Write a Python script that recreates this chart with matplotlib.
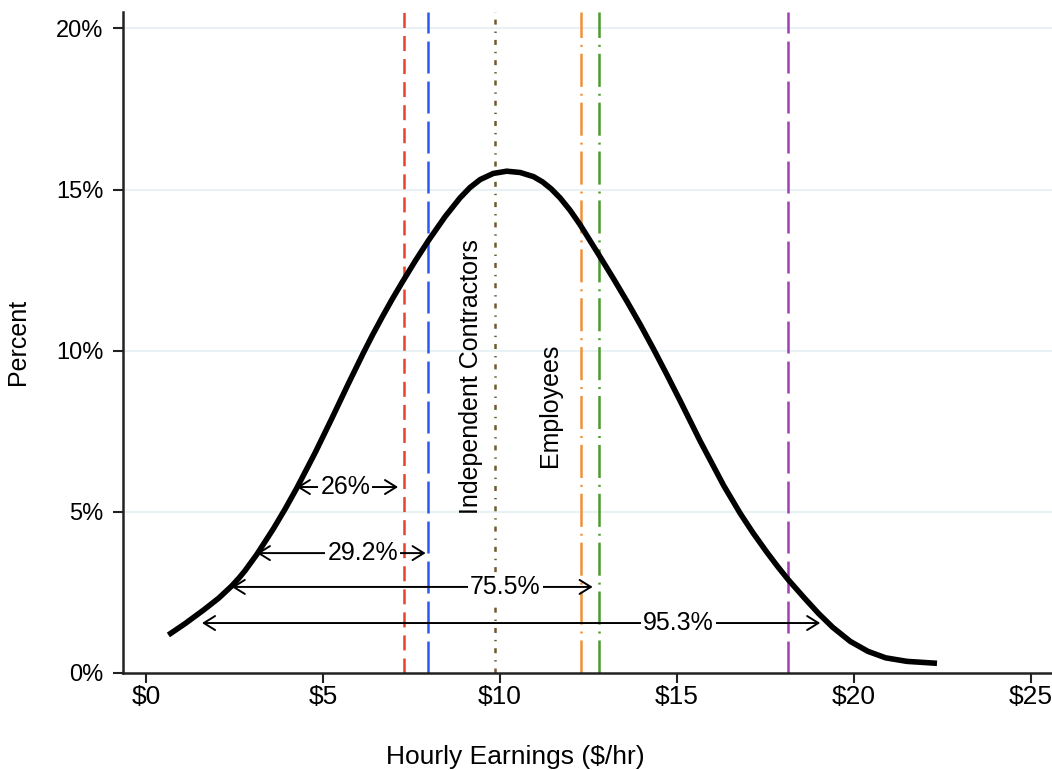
import matplotlib
matplotlib.use("Agg")
import matplotlib.pyplot as plt

plt.rcParams['font.family'] = ['Liberation Sans', 'DejaVu Sans']
plt.rcParams['lines.scale_dashes'] = False

# density curve (hourly earnings, percent)
curve_x = [0.63, 1.10, 1.62, 2.05, 2.42, 2.62, 2.80, 3.13, 3.60, 3.93,
           4.26, 4.78, 5.25, 5.70, 6.14, 6.40, 6.68, 6.95, 7.23, 7.62,
           7.98, 8.45, 8.87, 9.15, 9.44, 9.81, 10.19, 10.57, 10.95, 11.20,
           11.45, 11.70, 11.98, 12.27, 12.78, 13.20, 13.59, 13.97, 14.34, 14.72,
           15.09, 15.66, 16.32, 16.79, 17.15, 17.54, 17.85, 18.15, 18.60, 19.00,
           19.40, 19.90, 20.40, 20.90, 21.50, 22.35]
curve_y = [1.18, 1.53, 1.95, 2.32, 2.70, 2.94, 3.18, 3.68, 4.48, 5.09,
           5.74, 6.84, 7.90, 8.94, 9.93, 10.49, 11.06, 11.59, 12.11, 12.81,
           13.42, 14.16, 14.74, 15.06, 15.31, 15.50, 15.57, 15.53, 15.40, 15.24,
           15.02, 14.74, 14.36, 13.90, 13.00, 12.25, 11.53, 10.80, 10.05, 9.25,
           8.45, 7.19, 5.82, 4.95, 4.35, 3.75, 3.30, 2.89, 2.33, 1.85,
           1.42, 0.98, 0.67, 0.47, 0.36, 0.30]

# vertical reference lines
vline_x = [7.29, 7.97, 9.87, 12.29, 12.80, 18.15]
vline_colors = ['#e8432f', '#2a5bf0', '#6e5a2e', '#f0913a', '#4a9a2c', '#a23fb4']
vline_dashes = [(10.8, 5.8), (23, 5.8), (3.6, 5, 1, 5), (23.8, 5, 1.4, 5),
                (23.8, 5, 1.4, 5), (23, 5.8)]

# range arrows
arrow_labels = ['26%', '29.2%', '75.5%', '95.3%']
arrow_y = [5.77, 3.72, 2.67, 1.55]
arrow_start = [4.26, 3.13, 2.42, 1.58]
arrow_end = [7.12, 7.90, 12.62, 19.05]
arrow_text_x = [5.63, 6.12, 10.15, 15.05]

xticks = [0, 5, 10, 15, 20, 25]
yticks = [0, 5, 10, 15, 20]

fig = plt.figure(figsize=(10.52, 7.70), dpi=100)
ax = fig.add_axes([0.117, 0.126, 0.883, 0.858])

for x, c, d in zip(vline_x, vline_colors, vline_dashes):
    ax.plot([x, x], [0, 20.5], color=c, lw=1.8, dashes=d, zorder=2)

ax.plot(curve_x, curve_y, color='black', lw=4, zorder=3,
        solid_capstyle='butt', solid_joinstyle='round')

for lab, y, x0, x1, tx in zip(arrow_labels, arrow_y, arrow_start, arrow_end, arrow_text_x):
    ax.annotate('', xy=(x1, y), xytext=(x0, y),
                arrowprops=dict(arrowstyle='<->,head_length=0.45,head_width=0.28',
                                lw=1.4, color='black', mutation_scale=18,
                                shrinkA=0, shrinkB=0),
                zorder=4)
    ax.text(tx, y, lab, fontsize=18, ha='center', va='center', zorder=5,
            bbox=dict(facecolor='white', edgecolor='none', pad=1.5))

ax.text(9.17, 9.2, 'Independent Contractors', rotation=90, fontsize=18,
        ha='center', va='center', zorder=5)
ax.text(11.42, 8.3, 'Employees', rotation=90, fontsize=18,
        ha='center', va='center', zorder=5)

ax.set_xlim(-0.65, 25.6)
ax.set_ylim(0, 20.5)
ax.set_xticks(xticks)
ax.set_xticklabels(['$%d' % t for t in xticks])
ax.set_yticks(yticks)
ax.set_yticklabels(['%d%%' % t for t in yticks])
ax.tick_params(axis='both', length=7, width=1.5, color='#222222')
ax.tick_params(axis='x', pad=2, labelsize=19)
ax.tick_params(axis='y', pad=7, labelsize=17)

for t in yticks[1:]:
    ax.axhline(t, color='#e8f1f3', lw=1.5, zorder=1)

for s in ['top', 'right']:
    ax.spines[s].set_visible(False)
for s in ['left', 'bottom']:
    ax.spines[s].set_linewidth(1.8)
    ax.spines[s].set_color('#222222')

fig.text(0.49, 0.017, 'Hourly Earnings ($/hr)', fontsize=19, ha='center', va='center')
fig.text(0.017, 0.556, 'Percent', fontsize=18, rotation=90, ha='center', va='center')

fig.savefig('out.png', dpi=100)
